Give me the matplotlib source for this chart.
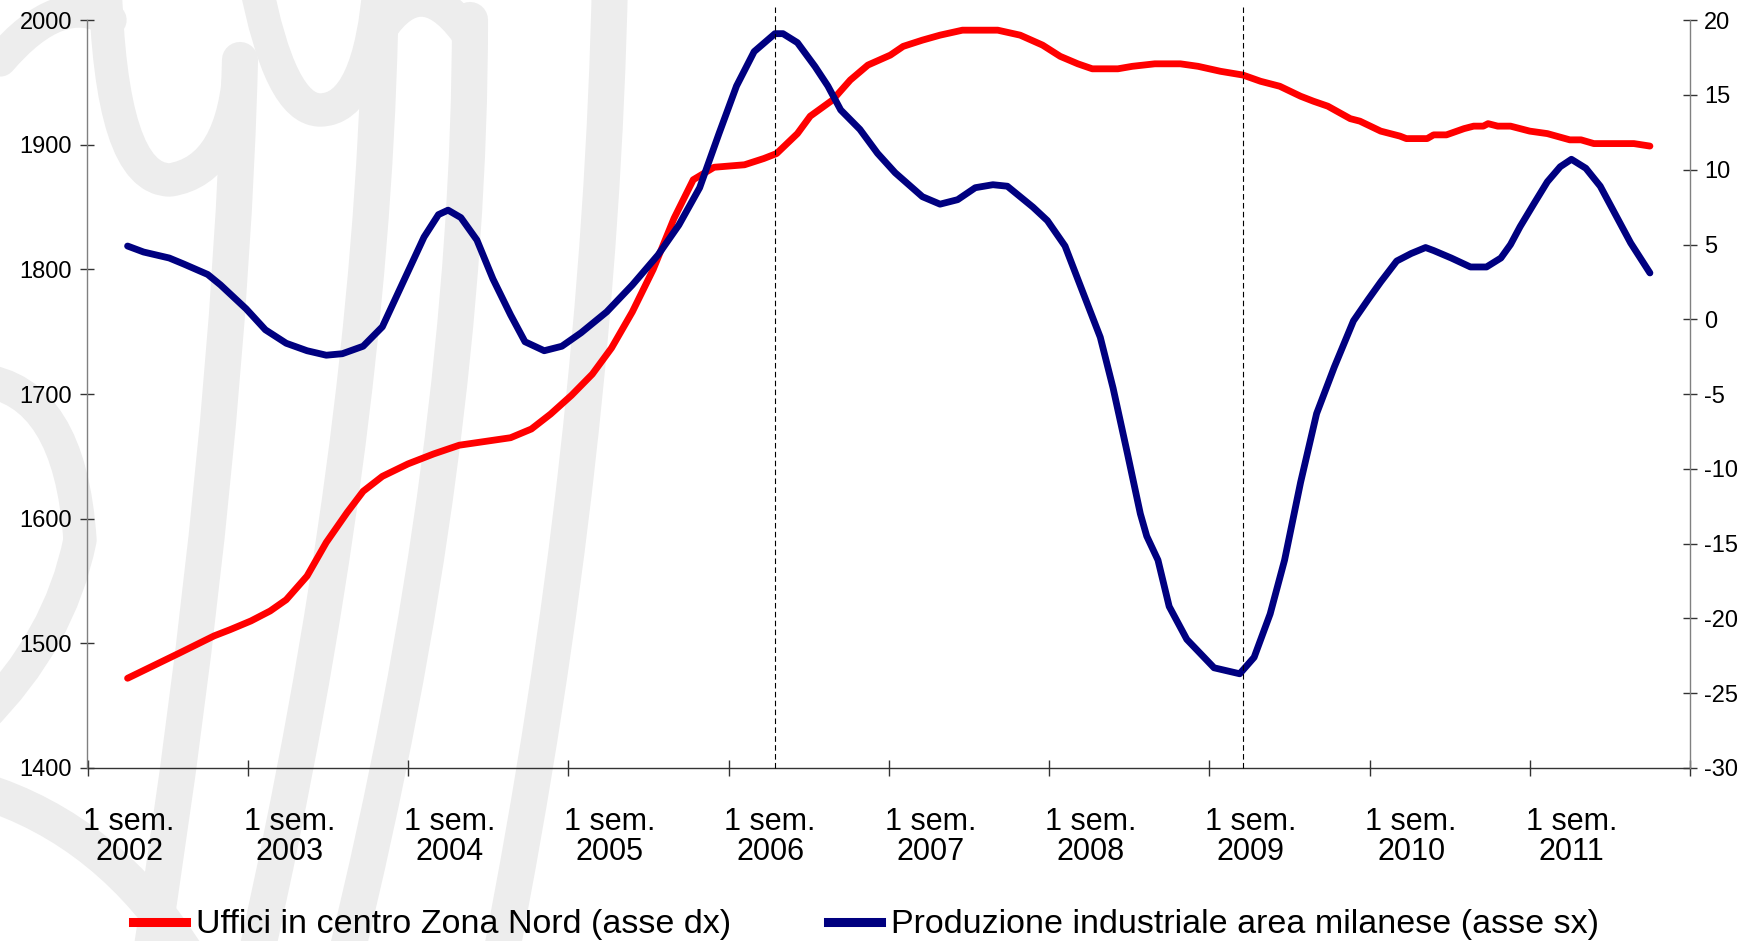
# =================
# IMPORTY
# =================
import matplotlib
matplotlib.use("Agg")
import matplotlib.pyplot as plt
from matplotlib.lines import Line2D
from matplotlib.path import Path
from matplotlib.patches import PathPatch


# =================
# DATI
# =================
anni_uffici = [
    2002.25, 2002.41, 2002.57, 2002.79, 2002.89, 2003.02, 2003.14, 2003.24,
    2003.37, 2003.49, 2003.62, 2003.72, 2003.84, 2004.00, 2004.16, 2004.32,
    2004.48, 2004.64, 2004.77, 2004.89, 2005.02, 2005.15, 2005.27, 2005.40,
    2005.53, 2005.66, 2005.78, 2005.91, 2006.10, 2006.22, 2006.30, 2006.43,
    2006.51, 2006.65, 2006.76, 2006.87, 2007.01, 2007.09, 2007.21, 2007.32,
    2007.46, 2007.68, 2007.82, 2007.96, 2008.07, 2008.18, 2008.27, 2008.43,
    2008.52, 2008.66, 2008.82, 2008.93, 2009.07, 2009.21, 2009.32, 2009.44,
    2009.57, 2009.65, 2009.74, 2009.88, 2009.94, 2010.07, 2010.19, 2010.23,
    2010.36, 2010.40, 2010.48, 2010.59, 2010.65, 2010.71, 2010.74, 2010.80,
    2010.88, 2011.00, 2011.11, 2011.25, 2011.32, 2011.40, 2011.65, 2011.75,
]
uffici = [
    1472, 1482, 1492, 1506, 1511, 1518, 1526, 1535,
    1554, 1581, 1605, 1622, 1634, 1644, 1652, 1659,
    1662, 1665, 1672, 1684, 1699, 1716, 1737, 1766,
    1800, 1841, 1872, 1882, 1884, 1889, 1893, 1909,
    1923, 1936, 1952, 1964, 1972, 1979, 1984, 1988,
    1992, 1992, 1988, 1980, 1971, 1965, 1961, 1961,
    1963, 1965, 1965, 1963, 1959, 1956, 1951, 1947,
    1939, 1935, 1931, 1921, 1919, 1911, 1907, 1905,
    1905, 1908, 1908, 1913, 1915, 1915, 1917, 1915,
    1915, 1911, 1909, 1904, 1904, 1901, 1901, 1899,
]

anni_produzione = [
    2002.25, 2002.35, 2002.51, 2002.60, 2002.75, 2002.83, 2002.99, 2003.11,
    2003.24, 2003.37, 2003.49, 2003.59, 2003.72, 2003.84, 2003.97, 2004.10,
    2004.19, 2004.25, 2004.33, 2004.43, 2004.53, 2004.64, 2004.73, 2004.85,
    2004.96, 2005.08, 2005.24, 2005.40, 2005.56, 2005.69, 2005.82, 2005.94,
    2006.05, 2006.16, 2006.29, 2006.34, 2006.43, 2006.54, 2006.62, 2006.70,
    2006.82, 2006.93, 2007.04, 2007.21, 2007.32, 2007.43, 2007.54, 2007.65,
    2007.74, 2007.90, 2007.99, 2008.10, 2008.19, 2008.32, 2008.40, 2008.49,
    2008.57, 2008.61, 2008.68, 2008.75, 2008.86, 2009.03, 2009.19, 2009.28,
    2009.38, 2009.47, 2009.57, 2009.67, 2009.78, 2009.90, 2009.99, 2010.07,
    2010.17, 2010.26, 2010.35, 2010.40, 2010.51, 2010.63, 2010.73, 2010.82,
    2010.88, 2010.94, 2011.03, 2011.11, 2011.19, 2011.26, 2011.35, 2011.44,
    2011.52, 2011.63, 2011.75,
]
produzione = [
    4.9, 4.5, 4.1, 3.7, 3.0, 2.3, 0.7, -0.7,
    -1.6, -2.1, -2.4, -2.3, -1.8, -0.5, 2.5, 5.5,
    7.0, 7.3, 6.8, 5.3, 2.7, 0.3, -1.5, -2.1,
    -1.8, -0.9, 0.5, 2.3, 4.3, 6.3, 8.8, 12.4,
    15.6, 17.9, 19.1, 19.1, 18.5, 16.9, 15.6, 14.0,
    12.7, 11.1, 9.8, 8.2, 7.7, 8.0, 8.8, 9.0,
    8.9, 7.5, 6.6, 4.9, 2.4, -1.2, -4.6, -9.0,
    -13.0, -14.5, -16.1, -19.2, -21.4, -23.3, -23.7, -22.6,
    -19.7, -16.1, -10.9, -6.3, -3.2, -0.1, 1.3, 2.5,
    3.9, 4.4, 4.8, 4.6, 4.1, 3.5, 3.5, 4.1,
    5.0, 6.2, 7.8, 9.2, 10.2, 10.7, 10.1, 8.9,
    7.3, 5.1, 3.1,
]

anni_etichette = list(range(2002, 2012))
etichette_x = [f"1 sem.\n{a}" for a in anni_etichette]
linee_verticali = [2006.29, 2009.21]

tick_sx = list(range(1400, 2001, 100))
tick_dx = list(range(-30, 21, 5))

nome_uffici = "Uffici in centro Zona Nord (asse dx)"
nome_produzione = "Produzione industriale area milanese (asse sx)"

ROSSO = "#ff0000"
BLU = "#000080"
GRIGIO_ASSE = "#808080"
GRIGIO_FILIGRANA = "#ededed"


# =================
# STILE
# =================
plt.rcParams["font.family"] = ["Liberation Sans", "DejaVu Sans"]
plt.rcParams["axes.unicode_minus"] = False

W, H = 1758, 941
fig = plt.figure(figsize=(W / 100, H / 100), dpi=100)
fig.patch.set_facecolor("white")


# =================
# FILIGRANA (sfondo decorativo, logo sbiadito)
# =================
def tratto(punti, lw=24):
    # punti in pixel dall'alto a sinistra, curve quadratiche a tratti
    verts = [(x / W, 1 - y / H) for x, y in punti]
    codes = [Path.MOVETO] + [Path.CURVE3] * (len(verts) - 1)
    p = PathPatch(Path(verts, codes), fill=False, lw=lw, ec=GRIGIO_FILIGRANA,
                  capstyle="round", joinstyle="round",
                  transform=fig.transFigure, zorder=-5)
    fig.add_artist(p)


# archi in alto
tratto([(105, -20), (110, 180), (170, 180), (235, 170), (240, 60)])
tratto([(0, 60), (60, -10), (110, 20)])
tratto([(255, -20), (280, 110), (320, 110), (370, 110), (380, -20)])
tratto([(380, 30), (420, -30), (465, 30)])
# tratti lunghi diagonali
tratto([(240, 60), (230, 450), (150, 960)], lw=26)
tratto([(380, 30), (370, 450), (255, 960)], lw=26)
tratto([(470, 20), (470, 450), (345, 960)], lw=26)
tratto([(610, -20), (600, 450), (500, 960)], lw=26)
# ricciolo a sinistra
tratto([(-20, 380), (70, 390), (80, 540), (60, 640), (-20, 720)])
tratto([(-20, 790), (110, 830), (190, 960)], lw=26)


# =================
# ASSI
# =================
ax = fig.add_axes([87.5 / W, 1 - 768 / H, (1690 - 87.5) / W, (768 - 20.2) / H])
ax2 = ax.twinx()
for a in (ax, ax2):
    a.patch.set_visible(False)
    a.spines["top"].set_visible(False)

ax.plot(anni_uffici, uffici, color=ROSSO, lw=4.9, solid_capstyle="round",
        solid_joinstyle="round")
ax2.plot(anni_produzione, produzione, color=BLU, lw=4.9, solid_capstyle="round",
         solid_joinstyle="round")

for x in linee_verticali:
    ax2.axvline(x, ymin=0, ymax=1.018, color="black", lw=0.8,
                ls=(0, (5, 3)), clip_on=False, zorder=5)

ax.set_xlim(2002, 2012)
ax.set_ylim(1400, 2000)
ax2.set_ylim(-30, 20)

ax.set_yticks(tick_sx)
ax.set_yticklabels([str(v) for v in tick_sx])
ax2.set_yticks(tick_dx)
ax2.set_yticklabels([str(v) for v in tick_dx])

ax.set_xticks(range(2002, 2013))
ax.set_xticklabels([])
ax.set_xticks([a + 0.26 for a in anni_etichette], minor=True)
ax.set_xticklabels(etichette_x, minor=True, fontsize=22, linespacing=1.0)

ax.spines["left"].set_color(GRIGIO_ASSE)
ax.spines["right"].set_visible(False)
ax.spines["bottom"].set_color("#333333")
ax2.spines["left"].set_visible(False)
ax2.spines["bottom"].set_visible(False)
ax2.spines["right"].set_color(GRIGIO_ASSE)
for s in ("left", "bottom"):
    ax.spines[s].set_linewidth(1.0)
ax2.spines["right"].set_linewidth(1.0)

ax.tick_params(axis="y", direction="inout", length=10, width=1,
               color="#333333", labelsize=17, pad=6)
ax2.tick_params(axis="y", direction="inout", length=10, width=1,
                color="#333333", labelsize=17, pad=5)
ax.tick_params(axis="x", which="major", direction="inout", length=12,
               width=1, color="#333333")
ax.tick_params(axis="x", which="minor", length=0, pad=28)


# =================
# LEGENDA
# =================
maniglie = [Line2D([], [], color=ROSSO, lw=6.5), Line2D([], [], color=BLU, lw=6.5)]
fig.legend(maniglie, [nome_uffici, nome_produzione], loc="center left",
           bbox_to_anchor=(133 / W, 1 - 925 / H), ncol=2, frameon=False,
           fontsize=24.5, handlelength=1.55, handletextpad=0.3,
           columnspacing=2.85, borderpad=0, borderaxespad=0)

fig.savefig("out.png", dpi=100, facecolor="white")
